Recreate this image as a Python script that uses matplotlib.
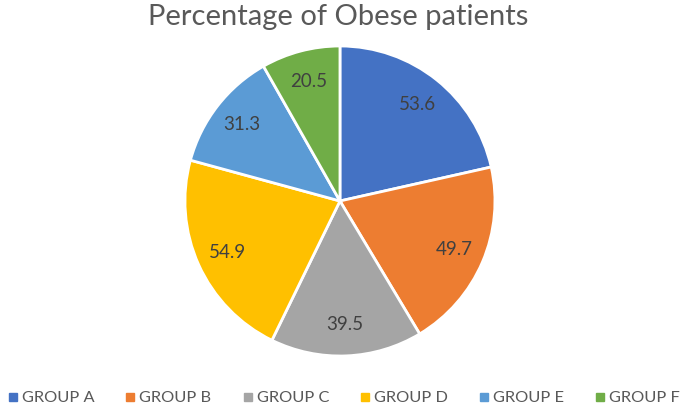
import matplotlib
matplotlib.use("Agg")
import matplotlib.pyplot as plt
from matplotlib.lines import Line2D

plt.rcParams["font.family"] = ["Lato", "DejaVu Sans"]

groups = ["GROUP A", "GROUP B", "GROUP C", "GROUP D", "GROUP E", "GROUP F"]
values = [53.6, 49.7, 39.5, 54.9, 31.3, 20.5]
colors = ["#4472C4", "#ED7D31", "#A5A5A5", "#FFC000", "#5B9BD5", "#70AD47"]

fig = plt.figure(figsize=(6.85, 4.07), dpi=100)
ax = fig.add_axes([0.270, 0.1253, 0.4526, 0.7617])

wedges, texts = ax.pie(
    values, colors=colors, startangle=90, counterclock=False,
    labels=[f"{v:.1f}" for v in values], labeldistance=0.8,
    wedgeprops=dict(edgecolor="white", linewidth=2),
    textprops=dict(ha="center", va="center", fontsize=13.5, color="#404040"),
)
ax.set_aspect("equal")
ax.set_xlim(-1, 1)
ax.set_ylim(-1, 1)

fig.text(0.494, 0.958, "Percentage of Obese patients", ha="center", va="center",
         fontsize=21, color="#595959")

handles = [Line2D([], [], marker="s", linestyle="none", markersize=5.5,
                  markerfacecolor=c, markeredgecolor=c) for c in colors]
fig.legend(handles, groups, loc="center", bbox_to_anchor=(0.5, 0.022), ncol=6,
           frameon=False, fontsize=11.8, labelcolor="#595959",
           handletextpad=0.1, columnspacing=1.75, handlelength=0.9,
           borderaxespad=0, borderpad=0)

fig.savefig("out.png", dpi=100)
